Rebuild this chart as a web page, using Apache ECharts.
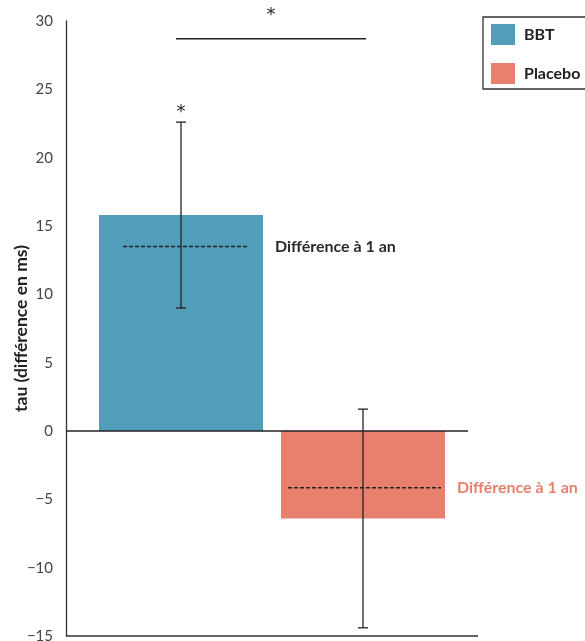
<!DOCTYPE html>
<html><head><meta charset="utf-8">
<script src="https://cdn.jsdelivr.net/npm/echarts@6/dist/echarts.min.js"></script>
<style>html,body{margin:0;padding:0;background:#fff}#c{width:585px;height:641px}</style>
</head><body><div id="c"></div>
<script>
// ---- data ----
const categories = ['BBT', 'Placebo'];
const barValues = [15.8, -6.4];
const errLow = [9.0, -14.4];
const errHigh = [22.6, 1.6];
const diffOneYear = [13.5, -4.15];
const diffLabel = 'Différence à 1 an';
const sigLevel = 28.7;
const yMin = -15, yMax = 30, yInterval = 5;
const yTitle = 'tau (différence en ms)';

// ---- styles ----
const colors = ['#519dba', '#e8806e'];
const labelColors = ['#2b2b2b', '#e8806e'];
const FONT = 'Lato';
const INK = '#222';
const dashSpan = [[-58, 68], [-75, 78]];

const chart = echarts.init(document.getElementById('c'), null, {renderer: 'canvas'});

const barSeries = categories.map((name, i) => ({
  name: name,
  type: 'bar',
  stack: 'bars',
  barWidth: 164,
  itemStyle: {color: colors[i]},
  data: categories.map((c, j) => j === i ? barValues[i] : '-'),
  z: 2
}));

const option = {
  animation: false,
  backgroundColor: '#fff',
  textStyle: {fontFamily: FONT},
  grid: {left: 90, top: 21, width: 364, height: 615, containLabel: false, outerBoundsMode: 'none'},
  legend: {
    orient: 'vertical',
    left: 483, top: 17,
    icon: 'rect',
    itemWidth: 24, itemHeight: 21, itemGap: 18,
    padding: [7, 30, 5, 8],
    borderColor: '#333', borderWidth: 1.3,
    textStyle: {fontFamily: FONT, fontWeight: 'bold', fontSize: 16, color: '#222', padding: [0, 0, 0, 4]},
    data: categories
  },
  xAxis: {
    type: 'category',
    data: categories,
    axisLine: {show: false}, axisTick: {show: false}, axisLabel: {show: false},
    splitLine: {show: false}
  },
  yAxis: {
    type: 'value',
    min: yMin, max: yMax, interval: yInterval,
    offset: 24,
    name: yTitle,
    nameLocation: 'middle',
    nameGap: 36,
    nameMoveOverlap: false,
    nameTextStyle: {fontFamily: FONT, fontWeight: 'bold', fontSize: 17.5, color: '#222'},
    axisLine: {show: true, onZero: false, lineStyle: {color: '#333', width: 1.3}},
    axisTick: {show: false},
    splitLine: {show: false},
    axisLabel: {
      margin: 13, fontSize: 15, color: '#444', fontFamily: FONT,
      formatter: v => String(v).replace('-', '\u2212')
    }
  },
  series: [
    ...barSeries,
    {
      type: 'custom',
      name: 'err',
      z: 5,
      data: categories.map((c, i) => [i, errLow[i], errHigh[i]]),
      renderItem(params, api) {
        const i = api.value(0);
        const lo = api.coord([i, api.value(1)]);
        const hi = api.coord([i, api.value(2)]);
        const cap = 5;
        const st = {stroke: INK, lineWidth: 1.3};
        const children = [
          {type: 'line', shape: {x1: lo[0], y1: lo[1], x2: hi[0], y2: hi[1]}, style: st},
          {type: 'line', shape: {x1: lo[0] - cap, y1: lo[1], x2: lo[0] + cap, y2: lo[1]}, style: st},
          {type: 'line', shape: {x1: hi[0] - cap, y1: hi[1], x2: hi[0] + cap, y2: hi[1]}, style: st}
        ];
        if (i === 0) {
          children.push({type: 'text', style: {text: '*', x: hi[0], y: hi[1] - 10, align: 'center', verticalAlign: 'middle', fontSize: 18, fontFamily: 'DejaVu Sans', fill: INK}});
        }
        return {type: 'group', children};
      }
    },
    {
      type: 'custom',
      name: 'diff',
      z: 4,
      data: categories.map((c, i) => [i, diffOneYear[i]]),
      renderItem(params, api) {
        const i = api.value(0);
        const p = api.coord([i, api.value(1)]);
        const half = api.size([1, 0])[0] * 0.45;
        return {type: 'group', children: [
          {type: 'line', shape: {x1: p[0] + dashSpan[i][0], y1: p[1], x2: p[0] + dashSpan[i][1], y2: p[1]},
           style: {stroke: INK, lineWidth: 1.6, lineDash: [4, 2]}},
          {type: 'text', style: {text: diffLabel, x: p[0] + half + 12, y: p[1], align: 'left', verticalAlign: 'middle',
           fontSize: 16, fontWeight: 'bold', fontFamily: FONT, fill: labelColors[i]}}
        ]};
      }
    },
    {
      type: 'custom',
      name: 'sig',
      z: 5,
      data: [[0, 1, sigLevel]],
      renderItem(params, api) {
        const a = api.coord([api.value(0), api.value(2)]);
        const b = api.coord([api.value(1), api.value(2)]);
        const x1 = a[0] - 5, x2 = b[0] + 3;
        return {type: 'group', children: [
          {type: 'line', shape: {x1, y1: a[1], x2, y2: a[1]}, style: {stroke: INK, lineWidth: 1.3}},
          {type: 'text', style: {text: '*', x: (x1 + x2) / 2, y: a[1] - 23, align: 'center', verticalAlign: 'middle', fontSize: 18, fontFamily: 'DejaVu Sans', fill: INK}}
        ]};
      }
    }
  ]
};
chart.setOption(option);

// axis lines extended beyond the category band area
const y0 = chart.convertToPixel({yAxisIndex: 0}, 0);
const yB = chart.convertToPixel({yAxisIndex: 0}, yMin);
const gLeft = 90 - 24;
chart.setOption({
  graphic: [
    {type: 'line', z: 10, shape: {x1: gLeft, y1: y0, x2: 468, y2: y0}, style: {stroke: INK, lineWidth: 1.3}},
    {type: 'line', z: 10, shape: {x1: gLeft, y1: yB, x2: 478, y2: yB}, style: {stroke: '#333', lineWidth: 1.3}}
  ]
});
</script>
</body></html>
